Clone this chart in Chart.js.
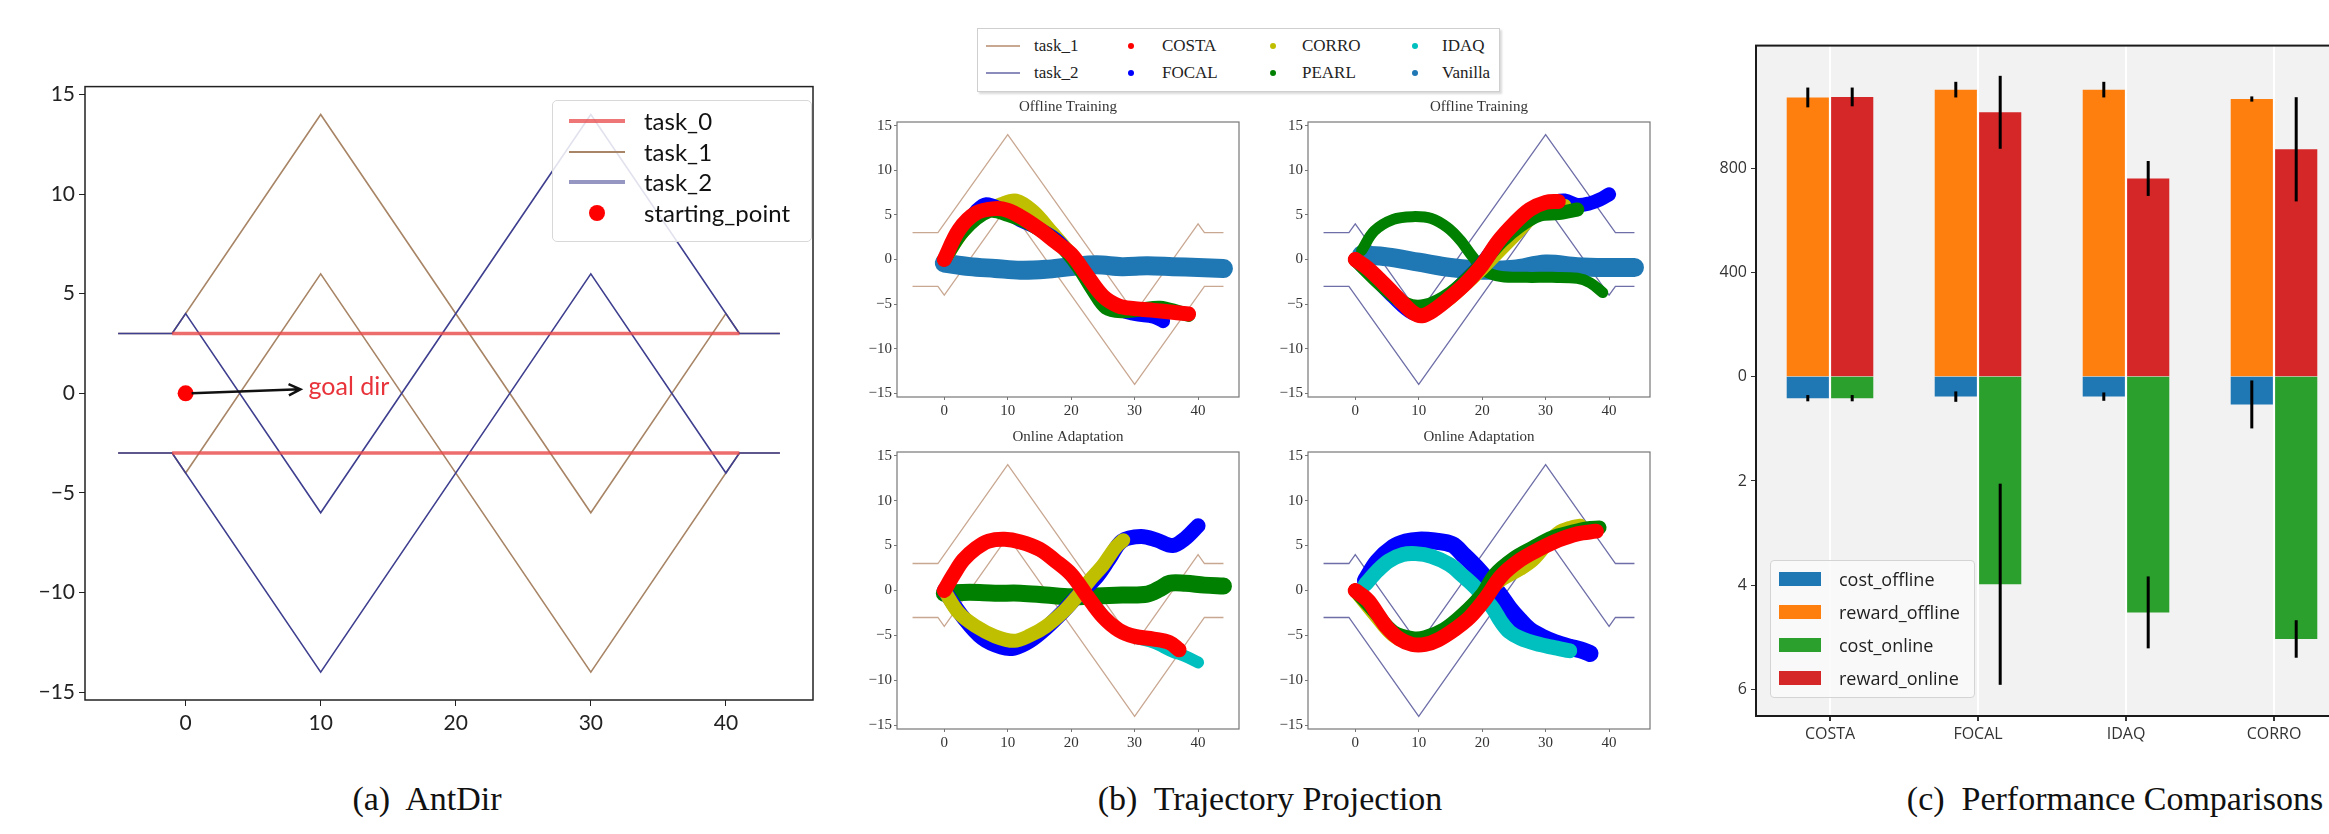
<!DOCTYPE html>
<html>
<head>
<meta charset="utf-8">
<title>AntDir, trajectory projection and performance</title>
<script src="https://cdn.jsdelivr.net/npm/chart.js@4.4.1/dist/chart.umd.min.js"></script>
<style>
  html, body { margin: 0; padding: 0; width: 2329px; height: 834px; overflow: hidden; background: #fff; }
  .panel { position: absolute; }
  canvas { display: block; }
  .legend { position: absolute; box-sizing: border-box; }
  .legend .row { position: absolute; left: 0; height: 0; }
  .legend .sw { position: absolute; }
  .legend .lbl { position: absolute; white-space: nowrap; }
  .legA { left: 552px; top: 100px; width: 260px; height: 142px; border: 1px solid #d8d8d8; border-radius: 5px;
          background: rgba(255,255,255,0.85); font: 24px Lato, sans-serif; color: #111; }
  .legA .lbl { left: 91px; top: -15px; line-height: 30px; }
  .legB { left: 977px; top: 28px; width: 523px; height: 64px; border: 1px solid #cfcfcf;
          box-shadow: 2px 2px 2px rgba(0,0,0,0.15); background: #fff; font: 17px "Liberation Serif", serif; color: #222; }
  .legB .lbl { top: -11px; line-height: 22px; }
  .legC { left: 1770px; top: 560px; width: 205px; height: 138px; border: 1px solid #d4d4d4; border-radius: 4px;
          background: rgba(250,250,250,0.8); font: 18px "Open Sans", sans-serif; color: #222; }
  .legC .lbl { left: 68px; top: -13px; line-height: 26px; }
  .dot { border-radius: 50%; }
  .cap { position: absolute; width: 700px; text-align: center; font: 34px "Liberation Serif", serif; color: #111; white-space: pre; }
</style>
</head>
<body>

<div class="panel" style="left:0;top:70px"><canvas id="antdir" width="830" height="680"></canvas></div>
<div class="panel" style="left:852px;top:98px"><canvas id="offT1" width="395" height="329"></canvas></div>
<div class="panel" style="left:1263px;top:98px"><canvas id="offT2" width="395" height="329"></canvas></div>
<div class="panel" style="left:852px;top:428px"><canvas id="onT1" width="395" height="331"></canvas></div>
<div class="panel" style="left:1263px;top:428px"><canvas id="onT2" width="395" height="331"></canvas></div>
<div class="panel" style="left:1706px;top:32px"><canvas id="perf" width="644" height="728"></canvas></div>

<div class="legend legA">
  <div class="row" style="top:20px"><span class="sw" style="left:16px;top:-2px;width:56px;height:4px;background:rgba(232,72,72,0.75)"></span><span class="lbl">task_0</span></div>
  <div class="row" style="top:51px"><span class="sw" style="left:16px;top:-1px;width:56px;height:2px;background:#a88566"></span><span class="lbl">task_1</span></div>
  <div class="row" style="top:81px"><span class="sw" style="left:16px;top:-2px;width:56px;height:4px;background:rgba(63,63,143,0.55)"></span><span class="lbl">task_2</span></div>
  <div class="row" style="top:112px"><span class="sw dot" style="left:36px;top:-8px;width:16px;height:16px;background:#ff0000"></span><span class="lbl">starting_point</span></div>
</div>

<div class="legend legB">
  <div class="row" style="top:17px">
    <span class="sw" style="left:8px;top:-1px;width:34px;height:2px;background:#c9a892"></span><span class="lbl" style="left:56px">task_1</span>
    <span class="sw dot" style="left:150px;top:-3px;width:6px;height:6px;background:#ff0000"></span><span class="lbl" style="left:184px">COSTA</span>
    <span class="sw dot" style="left:292px;top:-3px;width:6px;height:6px;background:#bfbf00"></span><span class="lbl" style="left:324px">CORRO</span>
    <span class="sw dot" style="left:434px;top:-3px;width:6px;height:6px;background:#00bfbf"></span><span class="lbl" style="left:464px">IDAQ</span>
  </div>
  <div class="row" style="top:44px">
    <span class="sw" style="left:8px;top:-1px;width:34px;height:2px;background:#8c8cbc"></span><span class="lbl" style="left:56px">task_2</span>
    <span class="sw dot" style="left:150px;top:-3px;width:6px;height:6px;background:#0000ff"></span><span class="lbl" style="left:184px">FOCAL</span>
    <span class="sw dot" style="left:292px;top:-3px;width:6px;height:6px;background:#008000"></span><span class="lbl" style="left:324px">PEARL</span>
    <span class="sw dot" style="left:434px;top:-3px;width:6px;height:6px;background:#1f77b4"></span><span class="lbl" style="left:464px">Vanilla</span>
  </div>
</div>

<div class="legend legC">
  <div class="row" style="top:18px"><span class="sw" style="left:8px;top:-7px;width:42px;height:14px;background:#1f77b4"></span><span class="lbl">cost_offline</span></div>
  <div class="row" style="top:51px"><span class="sw" style="left:8px;top:-7px;width:42px;height:14px;background:#ff7f0e"></span><span class="lbl">reward_offline</span></div>
  <div class="row" style="top:84px"><span class="sw" style="left:8px;top:-7px;width:42px;height:14px;background:#2ca02c"></span><span class="lbl">cost_online</span></div>
  <div class="row" style="top:117px"><span class="sw" style="left:8px;top:-7px;width:42px;height:14px;background:#d62728"></span><span class="lbl">reward_online</span></div>
</div>

<div class="cap" style="left:77px;top:780px">(a)  AntDir</div>
<div class="cap" style="left:920px;top:780px">(b)  Trajectory Projection</div>
<div class="cap" style="left:1765px;top:780px">(c)  Performance Comparisons</div>

<script>
// ---- (a) AntDir task boundaries ----
const task0Upper = [[-1, 3], [41, 3]];
const task0Lower = [[-1, -3], [41, -3]];
const task1Upper = [[-5, 3], [-1, 3], [10, 14], [30, -6], [40, 4], [41, 3], [44, 3]];
const task1Lower = [[-5, -3], [-1, -3], [0, -4], [10, 6], [30, -14], [41, -3], [44, -3]];
const task2Upper = [[-5, 3], [-1, 3], [0, 4], [10, -6], [30, 14], [41, 3], [44, 3]];
const task2Lower = [[-5, -3], [-1, -3], [10, -14], [30, 6], [40, -4], [41, -3], [44, -3]];
const startPoint = [0, 0];
const goalArrowEnd = [8.5, 0.2];
const goalLabelAt = [9.1, 0.3];
const posXTicks = [0, 10, 20, 30, 40];
const posYTicks = [-15, -10, -5, 0, 5, 10, 15];

// ---- (b) trajectories, offline training on task_1 ----
const offT1Costa = [[0, 0], [2.3, 3.3], [5, 5.2], [8, 5.7], [10, 5.5], [12.5, 4.6], [15, 3.4], [17.5, 2], [20, 0.6], [22.5, -1.8], [25, -4.1], [27.5, -5.2], [30, -5.5], [33, -5.7], [36, -5.9], [38.5, -6.1]];
const offT1Focal = [[0, 0], [2.5, 3.2], [5, 5.4], [6.6, 6.2], [9, 5.6], [12, 4.4], [15, 3.4], [18, 2], [21, -0.5], [24, -3.5], [27, -5.4], [30, -6.1], [33, -6.4], [34.5, -6.9]];
const offT1Corro = [[0, 0], [3, 3.2], [6, 5.2], [9, 6.2], [11.3, 6.6], [14, 5.4], [17, 3], [20, 0.5], [23, -2.5], [26, -4.8], [29, -5.7], [33, -5.9]];
const offT1Pearl = [[0, 0], [3, 3.2], [7, 5.4], [10, 5], [14, 3.8], [18, 1.8], [21, -0.7], [23.5, -3.5], [25.5, -5.4], [28, -5.8], [31, -5.6], [34, -5.4], [37, -5.9], [38.5, -6.2]];
const offT1Vanilla = [[0, -0.4], [4, -0.8], [8, -1], [12, -1.2], [16, -1.1], [20, -0.8], [24, -0.6], [28, -0.8], [32, -0.7], [36, -0.8], [40, -0.9], [44, -1]];

// ---- (b) offline training on task_2 ----
const offT2Costa = [[0, 0], [2, -1], [4.5, -2.7], [7, -4.5], [9, -5.9], [10.5, -6.3], [12.5, -5.6], [15, -4.2], [17.5, -2.6], [20, -0.6], [22.5, 2], [25, 4], [27.5, 5.6], [30, 6.4], [32, 6.5]];
const offT2Focal = [[0, 0], [3, -2], [6, -4.2], [9, -6], [11, -6], [14, -4.6], [17, -2.6], [20, -0.4], [23, 2.4], [26, 4.6], [29, 6], [31, 6.4], [33, 6.6], [35, 6.1], [37, 6.3], [38.5, 6.7], [40, 7.3]];
const offT2Corro = [[0, 0], [4, -2.4], [8, -5.2], [11, -5.8], [14, -4.8], [17, -3], [20, -1], [23, 1.2], [25.5, 3], [28, 4.8], [31, 5.8], [33, 6]];
const offT2PearlArc = [[1, 1], [3, 3.2], [6, 4.5], [9, 4.8], [12, 4.6], [14.5, 3.6], [16.5, 2.2], [18.5, 0.3], [20.5, -1.3], [23, -1.9], [27, -2], [31, -2], [35, -2.1], [37, -2.6], [39, -3.7]];
const offT2Pearl = [[0, 0], [4, -2.8], [8, -5], [11, -5.2], [15, -3.8], [19, -1.2], [23, 2], [26, 3.8], [29, 5], [32, 5.2], [35, 5.6]];
const offT2Vanilla = [[1, 0.5], [5, 0.3], [10, -0.3], [15, -0.9], [20, -1.2], [25, -1.1], [30, -0.5], [35, -0.8], [40, -0.9], [44, -0.9]];

// ---- (b) online adaptation on task_1 ----
const onT1Costa = [[0, 0], [1.5, 1.8], [3, 3.4], [5, 4.7], [7, 5.5], [9.5, 5.7], [12, 5.4], [15, 4.6], [17.5, 3.3], [20, 1.8], [22.5, -0.6], [25, -2.9], [27.5, -4.4], [30, -5.1], [33, -5.4], [35.5, -5.8], [37, -6.6]];
const onT1Pearl = [[0, -0.3], [4, -0.2], [8, -0.3], [12, -0.3], [16, -0.5], [20, -0.7], [24, -0.6], [28, -0.5], [32, -0.4], [34, 0.2], [35.5, 0.8], [38, 0.8], [41, 0.6], [44, 0.5]];
const onT1Corro = [[0, 0], [2.3, -2.5], [5, -4], [8, -5.1], [11, -5.6], [13.5, -5], [16, -4], [19, -2.2], [21, -0.6], [23, 1.2], [25, 2.8], [27, 4.8], [28.2, 5.6]];
const onT1Focal = [[0, 0], [3, -3], [6, -5.3], [9, -6.3], [11, -6.4], [13.5, -5.6], [16, -4.2], [18.5, -2.5], [21, -0.6], [24, 1.5], [26, 3.5], [28, 5.5], [31, 6], [33.5, 5.6], [36, 5], [38, 5.8], [40, 7.2]];
const onT1Idaq = [[0, 0], [3, 3.4], [7, 5.5], [10, 5.6], [14, 4.8], [18, 3], [21, 0.8], [24, -1.8], [27, -4.2], [30, -5.2], [33, -5.8], [36, -6.8], [38, -7.3], [40, -8]];

// ---- (b) online adaptation on task_2 ----
const onT2Costa = [[0, 0], [2, -1.1], [3.5, -2.6], [5, -4.1], [7, -5.4], [9, -6], [11, -6], [13, -5.5], [15.5, -4.4], [18, -3], [20.5, -0.9], [23, 1.6], [26, 3.4], [29, 4.6], [32, 5.6], [35, 6.3], [38, 6.6]];
const onT2Pearl = [[0, 0], [3, -2.3], [6, -4.6], [9, -5.3], [11, -5.2], [14, -4.3], [17, -2.6], [20, -0.4], [22, 1.8], [25, 3.6], [28, 4.8], [31, 5.9], [34, 6.5], [36.5, 6.9], [38.5, 7]];
const onT2Corro = [[0, 0], [3, -2.6], [6, -5], [9, -5.8], [13, -5], [17, -2.8], [20, -0.6], [23, 1.2], [26, 2.4], [28, 3.4], [30, 5], [32, 6.4], [34, 7], [35.5, 7.2]];
const onT2Idaq = [[1.6, 0.7], [3.5, 2.2], [5.3, 3.3], [7.5, 4], [9.5, 4.1], [12, 3.8], [14.8, 2.9], [17, 1.6], [19, 0.3], [20.5, -1], [21.7, -2], [23, -3.5], [24.3, -4.6], [26, -5.3], [28.5, -5.9], [31, -6.3], [33.8, -6.7]];
const onT2Focal = [[1.6, 1.1], [3.5, 3.2], [6, 4.8], [8, 5.4], [10, 5.6], [12.5, 5.5], [15.3, 5.1], [17, 4], [19, 2.6], [21, 1], [22.7, -0.4], [24.3, -2], [25.9, -3.3], [27.5, -4.4], [29.5, -5.2], [31.5, -5.8], [33.8, -6.3], [35.5, -6.6], [37, -7]];

// ---- (c) performance ----
const methods = ['COSTA', 'FOCAL', 'IDAQ', 'CORRO'];
const costOffline = [0.41, 0.38, 0.38, 0.53];
const costOfflineErr = [0.06, 0.1, 0.08, 0.46];
const rewardOffline = [1072, 1102, 1102, 1066];
const rewardOfflineErr = [38, 30, 30, 10];
const costOnline = [0.41, 3.98, 4.52, 5.03];
const costOnlineErr = [0.06, 1.93, 0.69, 0.36];
const rewardOnline = [1074, 1015, 761, 873];
const rewardOnlineErr = [36, 140, 67, 200];
const rewardTicks = [0, 400, 800];
const costTicks = [2, 4, 6];
// reward goes up from the zero line, cost goes down from it
const rewardRange = [-1302, 1271];
const costRange = [-6.355, 6.508];

const colors = {
  COSTA: '#ff0000', FOCAL: '#0000ff', CORRO: '#bfbf00', PEARL: '#008000', IDAQ: '#00bfbf', Vanilla: '#1f77b4'
};

const pts = arr => arr.map(([x, y]) => ({ x, y }));
const minus = v => String(v).replace('-', '\u2212');
const fixTicks = list => scale => { scale.ticks = list.map(v => ({ value: v })); };

function edge(data, color, width) {
  return { data: pts(data), showLine: true, borderColor: color, borderWidth: width, pointRadius: 0, tension: 0 };
}
function track(data, color, width) {
  return {
    data: pts(data), showLine: true, borderColor: color, backgroundColor: color, borderWidth: width,
    pointRadius: 0, tension: 0.35, borderCapStyle: 'round', borderJoinStyle: 'round'
  };
}

// box round the plot area
const frame = {
  id: 'frame',
  afterDraw(chart, args, opts) {
    const { ctx, chartArea: a } = chart;
    ctx.save();
    ctx.strokeStyle = opts.color;
    ctx.lineWidth = opts.width;
    ctx.strokeRect(a.left, a.top, a.right - a.left, a.bottom - a.top);
    ctx.restore();
  }
};

const goalArrow = {
  id: 'goalArrow',
  afterDatasetsDraw(chart) {
    const { ctx, scales: { x, y } } = chart;
    const x0 = x.getPixelForValue(startPoint[0]) + 6, y0 = y.getPixelForValue(startPoint[1]);
    const x1 = x.getPixelForValue(goalArrowEnd[0]), y1 = y.getPixelForValue(goalArrowEnd[1]);
    const ang = Math.atan2(y1 - y0, x1 - x0);
    ctx.save();
    ctx.strokeStyle = '#111';
    ctx.lineWidth = 2.5;
    ctx.beginPath();
    ctx.moveTo(x0, y0);
    ctx.lineTo(x1, y1);
    ctx.moveTo(x1 - 13 * Math.cos(ang - 0.45), y1 - 13 * Math.sin(ang - 0.45));
    ctx.lineTo(x1, y1);
    ctx.lineTo(x1 - 13 * Math.cos(ang + 0.45), y1 - 13 * Math.sin(ang + 0.45));
    ctx.stroke();
    ctx.fillStyle = '#e8333a';
    ctx.font = '25px Lato';
    ctx.textBaseline = 'middle';
    ctx.fillText('goal dir', x.getPixelForValue(goalLabelAt[0]), y.getPixelForValue(goalLabelAt[1]));
    ctx.restore();
  }
};

const plotBackground = {
  id: 'plotBackground',
  beforeDraw(chart, args, opts) {
    const { ctx, chartArea: a } = chart;
    ctx.save();
    ctx.fillStyle = opts.color;
    ctx.fillRect(a.left, a.top, a.right - a.left, a.bottom - a.top);
    ctx.restore();
  }
};

const errorBars = {
  id: 'errorBars',
  afterDatasetsDraw(chart) {
    const { ctx } = chart;
    ctx.save();
    ctx.strokeStyle = '#000';
    ctx.lineWidth = 3;
    chart.data.datasets.forEach((ds, i) => {
      const meta = chart.getDatasetMeta(i);
      const scale = chart.scales[meta.yAxisID];
      meta.data.forEach((bar, j) => {
        ctx.beginPath();
        ctx.moveTo(bar.x, scale.getPixelForValue(ds.data[j] - ds.errors[j]));
        ctx.lineTo(bar.x, scale.getPixelForValue(ds.data[j] + ds.errors[j]));
        ctx.stroke();
      });
    });
    ctx.restore();
  }
};

// ---------- (a) ----------
new Chart(document.getElementById('antdir'), {
  type: 'scatter',
  data: {
    datasets: [
      { data: pts([startPoint]), pointRadius: 8, pointBackgroundColor: '#ff0000', pointBorderWidth: 0 },
      edge(task0Upper, 'rgba(232,72,72,0.8)', 3.5),
      edge(task0Lower, 'rgba(232,72,72,0.8)', 3.5),
      edge(task2Upper, '#3f3f8f', 1.6),
      edge(task2Lower, '#3f3f8f', 1.6),
      edge(task1Upper, '#a88566', 1.6),
      edge(task1Lower, '#a88566', 1.6)
    ]
  },
  options: {
    responsive: false,
    animation: false,
    layout: { padding: { top: 15, right: 17, left: 0, bottom: 0 } },
    plugins: { legend: { display: false }, tooltip: { enabled: false }, frame: { color: '#222', width: 1.5 } },
    scales: {
      x: {
        type: 'linear', min: -7.45, max: 46.45,
        afterBuildTicks: fixTicks(posXTicks),
        afterFit: s => { s.height = 50; },
        border: { display: false },
        grid: { drawOnChartArea: false, tickLength: 6, color: '#222' },
        ticks: { font: { family: 'Lato', size: 21 }, color: '#222', padding: 5, callback: minus }
      },
      y: {
        type: 'linear', min: -15.4, max: 15.4,
        afterBuildTicks: fixTicks(posYTicks),
        afterFit: s => { s.width = 85; },
        border: { display: false },
        grid: { drawOnChartArea: false, tickLength: 6, color: '#222' },
        ticks: { font: { family: 'Lato', size: 21 }, color: '#222', padding: 4, callback: minus }
      }
    }
  },
  plugins: [frame, goalArrow]
});

// ---------- (b) ----------
function trajAxis(ticks, min, max, horizontal) {
  return {
    type: 'linear', min, max,
    afterBuildTicks: fixTicks(ticks),
    afterFit: horizontal ? s => { s.height = 30; } : s => { s.width = 45; },
    border: { display: false },
    grid: { drawOnChartArea: false, tickLength: 3, color: '#777' },
    ticks: { font: { family: 'Liberation Serif', size: 15 }, color: '#333', padding: 2, callback: minus }
  };
}

function trajChart(id, title, bounds, boundColor, tracks) {
  const datasets = tracks.map(([data, color, width]) => track(data, color, width));
  bounds.forEach(b => datasets.push(edge(b, boundColor, 1.3)));
  new Chart(document.getElementById(id), {
    type: 'scatter',
    data: { datasets },
    options: {
      responsive: false,
      animation: false,
      layout: { padding: { right: 8, top: 0, left: 0, bottom: 0 } },
      plugins: {
        legend: { display: false },
        tooltip: { enabled: false },
        title: {
          display: true, text: title, fullSize: false, color: '#333',
          font: { family: 'Liberation Serif', size: 15, weight: 'normal' },
          padding: { top: 0, bottom: 6 }
        },
        frame: { color: '#777', width: 1.2 }
      },
      scales: {
        x: trajAxis(posXTicks, -7.45, 46.45, true),
        y: trajAxis(posYTicks, -15.4, 15.4, false)
      }
    },
    plugins: [frame]
  });
}

const task1Edges = [task1Upper, task1Lower];
const task2Edges = [task2Upper, task2Lower];

trajChart('offT1', 'Offline Training', task1Edges, '#c9a892', [
  [offT1Costa, colors.COSTA, 15],
  [offT1Pearl, colors.PEARL, 14],
  [offT1Focal, colors.FOCAL, 14],
  [offT1Corro, colors.CORRO, 14],
  [offT1Vanilla, colors.Vanilla, 19]
]);

trajChart('offT2', 'Offline Training', task2Edges, '#6e6ea8', [
  [offT2Costa, colors.COSTA, 15],
  [offT2Pearl, colors.PEARL, 14],
  [offT2Corro, colors.CORRO, 14],
  [offT2Focal, colors.FOCAL, 14],
  [offT2PearlArc, colors.PEARL, 11],
  [offT2Vanilla, colors.Vanilla, 19]
]);

trajChart('onT1', 'Online Adaptation', task1Edges, '#c9a892', [
  [onT1Costa, colors.COSTA, 15],
  [onT1Corro, colors.CORRO, 14],
  [onT1Focal, colors.FOCAL, 15],
  [onT1Pearl, colors.PEARL, 17],
  [onT1Idaq, colors.IDAQ, 12]
]);

trajChart('onT2', 'Online Adaptation', task2Edges, '#6e6ea8', [
  [onT2Costa, colors.COSTA, 15],
  [onT2Pearl, colors.PEARL, 14],
  [onT2Corro, colors.CORRO, 14],
  [onT2Idaq, colors.IDAQ, 15],
  [onT2Focal, colors.FOCAL, 17]
]);

// ---------- (c) ----------
// one visible axis carries both label sets: reward above zero, cost below
const costPerReward = (costRange[1] - costRange[0]) / (rewardRange[1] - rewardRange[0]);

new Chart(document.getElementById('perf'), {
  type: 'bar',
  data: {
    labels: methods,
    datasets: [
      { label: 'cost_offline', data: costOffline, errors: costOfflineErr, backgroundColor: '#1f77b4', yAxisID: 'yc', stack: 'offline' },
      { label: 'reward_offline', data: rewardOffline, errors: rewardOfflineErr, backgroundColor: '#ff7f0e', yAxisID: 'y', stack: 'offline' },
      { label: 'cost_online', data: costOnline, errors: costOnlineErr, backgroundColor: '#2ca02c', yAxisID: 'yc', stack: 'online' },
      { label: 'reward_online', data: rewardOnline, errors: rewardOnlineErr, backgroundColor: '#d62728', yAxisID: 'y', stack: 'online' }
    ]
  },
  options: {
    responsive: false,
    animation: false,
    barPercentage: 0.95,
    categoryPercentage: 0.6,
    layout: { padding: { top: 10, right: 2, left: 0, bottom: 0 } },
    plugins: {
      legend: { display: false },
      tooltip: { enabled: false },
      plotBackground: { color: '#f2f2f2' },
      frame: { color: '#1a1a1a', width: 2 }
    },
    scales: {
      x: {
        offset: true,
        afterFit: s => { s.height = 44; },
        border: { display: false },
        grid: { display: true, drawOnChartArea: true, offset: false, color: '#ffffff', lineWidth: 2, tickColor: '#333', tickLength: 5 },
        ticks: { font: { family: 'Open Sans', size: 16 }, color: '#333', padding: 4 }
      },
      y: {
        position: 'left',
        min: rewardRange[0], max: rewardRange[1],
        afterBuildTicks: s => {
          s.ticks = rewardTicks.map(v => ({ value: v }))
            .concat(costTicks.map(c => ({ value: -c / costPerReward, cost: c })));
        },
        afterFit: s => { s.width = 50; },
        border: { display: false },
        grid: { drawOnChartArea: false, tickLength: 5, color: '#333' },
        ticks: {
          font: { family: 'Open Sans', size: 16 }, color: '#333', padding: 4,
          callback: (v, i, ticks) => ticks[i].cost !== undefined ? ticks[i].cost : v
        }
      },
      yc: {
        display: false, reverse: true,
        min: costRange[0], max: costRange[1]
      }
    }
  },
  plugins: [plotBackground, errorBars, frame]
});
</script>
</body>
</html>
